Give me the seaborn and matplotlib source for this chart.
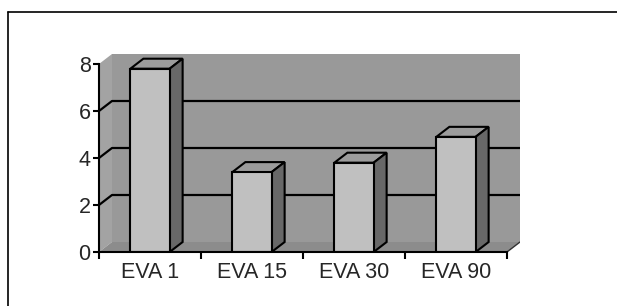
import matplotlib
matplotlib.use("Agg")
import matplotlib.pyplot as plt
import seaborn as sns
from matplotlib.patches import Polygon, Rectangle
from matplotlib.lines import Line2D

categories = ["EVA 1", "EVA 15", "EVA 30", "EVA 90"]
values = [7.8, 3.4, 3.8, 4.9]
y_ticks = [0, 2, 4, 6, 8]

sns.set_style("white")
plt.rcParams["font.family"] = ["Liberation Sans", "DejaVu Sans"]

W, H = 617, 306
fig = plt.figure(figsize=(W / 100, H / 100), dpi=100)

# pixel geometry of the fake 3d box
left_px, floor_px, cat_px, unit_px = 99, 252, 102, 23.5
dx_px, dy_px = 13, 10
ddx = dx_px / cat_px
ddy = dy_px / unit_px
ymax = y_ticks[-1]
n = len(categories)

ax = fig.add_axes([left_px / W, (H - floor_px) / H,
                   (cat_px * n + dx_px) / W, (ymax * unit_px + dy_px) / H])

sns.barplot(x=categories, y=values, color="#c0c0c0", width=0.385,
            edgecolor="black", linewidth=1.5, saturation=1, ax=ax, zorder=3)
bars = list(ax.containers[0])

ax.set_xlim(-0.5, n - 0.5 + ddx)
ax.set_ylim(0, ymax + ddy)

# walls and floor
ax.add_patch(Rectangle((-0.5 + ddx, ddy), n, ymax, facecolor="#999999",
                       edgecolor="none", zorder=0))
ax.add_patch(Polygon([(-0.5, 0), (-0.5 + ddx, ddy), (-0.5 + ddx, ymax + ddy), (-0.5, ymax)],
                     facecolor="#a3a3a3", edgecolor="none", zorder=0))
ax.add_patch(Polygon([(-0.5, 0), (n - 0.5, 0), (n - 0.5 + ddx, ddy), (-0.5 + ddx, ddy)],
                     facecolor="#8c8c8c", edgecolor="none", zorder=0))
ax.plot([n - 0.5, n - 0.5 + ddx], [0, ddy], color="#333333", lw=1, zorder=1)

for v in y_ticks[1:-1]:
    ax.plot([-0.5, -0.5 + ddx, n - 0.5 + ddx], [v, v + ddy, v + ddy],
            color="black", lw=1.6, zorder=1)

# top and side faces of each bar
for p in bars:
    x0, w, h = p.get_x(), p.get_width(), p.get_height()
    top = [(x0, h), (x0 + w, h), (x0 + w + ddx, h + ddy), (x0 + ddx, h + ddy)]
    side = [(x0 + w, 0), (x0 + w + ddx, ddy), (x0 + w + ddx, h + ddy), (x0 + w, h)]
    ax.add_patch(Polygon(top, facecolor="#9c9c9c", edgecolor="black", lw=1.5, zorder=2.5))
    ax.add_patch(Polygon(side, facecolor="#686868", edgecolor="black", lw=1.5, zorder=2.5))

# axes
for s in ["top", "right"]:
    ax.spines[s].set_visible(False)
for s in ["left", "bottom"]:
    ax.spines[s].set_color("black")
    ax.spines[s].set_linewidth(1.5)
    ax.spines[s].set_zorder(4)
ax.spines["left"].set_bounds(0, ymax)
ax.spines["bottom"].set_bounds(-0.5, n - 0.5)

ax.set_yticks(y_ticks)
ax.set_xticks([i - 0.5 for i in range(n + 1)], minor=True)
ax.tick_params(axis="y", length=4, width=1.5, pad=2, labelsize=15.5, color="black", left=True)
ax.tick_params(axis="x", which="major", length=0, pad=7, labelsize=15.5)
ax.tick_params(axis="x", which="minor", length=5, width=1.5, color="black", bottom=True)
ax.set_xlabel("")
ax.set_ylabel("")

# outer frame
fig.add_artist(Line2D([8 / W, 8 / W], [0, 1 - 12 / H], color="black", lw=1.2))
fig.add_artist(Line2D([8 / W, 1], [1 - 12 / H, 1 - 12 / H], color="black", lw=1.2))

fig.savefig("out.png", dpi=100)
